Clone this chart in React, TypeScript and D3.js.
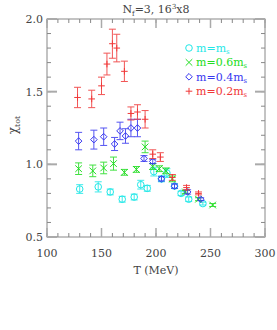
import React from 'react';
import * as d3 from 'd3';

// T (MeV), chi_tot value, error for each quark mass
const redT = [128, 141, 150, 155, 160, 164, 171, 177, 183, 190, 197, 204, 215, 228, 239];
const redV = [1.46, 1.45, 1.54, 1.69, 1.83, 1.8, 1.64, 1.35, 1.36, 1.31, 1.07, 1.05, 0.91, 0.84, 0.8];
const redE = [0.07, 0.06, 0.06, 0.075, 0.1, 0.095, 0.07, 0.045, 0.05, 0.06, 0.03, 0.03, 0.02, 0.015, 0.01];

const blueT = [129, 143, 152, 162, 167, 172, 177, 183, 189, 197, 205, 217, 229, 241];
const blueV = [1.16, 1.17, 1.19, 1.14, 1.23, 1.195, 1.25, 1.25, 1.04, 1.02, 0.9, 0.85, 0.81, 0.76];
const blueE = [0.06, 0.065, 0.06, 0.045, 0.06, 0.05, 0.06, 0.06, 0.02, 0.015, 0.015, 0.015, 0.015, 0.01];

const greenT = [129, 142, 152, 161, 171, 182, 190, 197, 203, 209, 215, 227, 239, 252];
const greenV = [0.97, 0.955, 0.975, 1.005, 0.945, 0.965, 1.12, 0.985, 0.97, 0.955, 0.9, 0.81, 0.76, 0.72];
const greenE = [0.04, 0.04, 0.04, 0.045, 0.02, 0.02, 0.04, 0.02, 0.02, 0.02, 0.02, 0.01, 0.01, 0.01];

const cyanT = [130, 147, 158, 169, 180, 186, 192, 198, 205, 210, 217, 223, 230, 243];
const cyanV = [0.83, 0.845, 0.81, 0.76, 0.775, 0.86, 0.835, 0.95, 0.9, 0.94, 0.85, 0.8, 0.76, 0.73];
const cyanE = [0.03, 0.035, 0.02, 0.02, 0.02, 0.03, 0.02, 0.03, 0.02, 0.03, 0.015, 0.015, 0.015, 0.01];

const xTicks = [100, 150, 200, 250, 300];
const yTicks = [0.5, 1.0, 1.5, 2.0];

const series = [
  { label: '1', coef: '', T: cyanT, V: cyanV, E: cyanE, color: '#1fe8e8', sym: 'circle' },
  { label: '0.6', coef: '0.6', T: greenT, V: greenV, E: greenE, color: '#22dd22', sym: 'cross' },
  { label: '0.4', coef: '0.4', T: blueT, V: blueV, E: blueE, color: '#3838f0', sym: 'diamond' },
  { label: '0.2', coef: '0.2', T: redT, V: redV, E: redE, color: '#f03838', sym: 'plus' },
];

const W = 277;
const H = 330;
const left = 47, right = 265, top = 19, bottom = 237;
const font = '"DejaVu Serif", "Liberation Serif", serif';

function Marker({ sym, x, y, color }: { sym: string; x: number; y: number; color: string }) {
  const r = 3.3;
  if (sym === 'circle') return <circle cx={x} cy={y} r={r} fill="none" stroke={color} strokeWidth={1} />;
  if (sym === 'cross')
    return (
      <path d={`M${x - r},${y - r}L${x + r},${y + r}M${x - r},${y + r}L${x + r},${y - r}`} stroke={color} strokeWidth={1} />
    );
  if (sym === 'diamond')
    return (
      <path d={`M${x},${y - r}L${x + r},${y}L${x},${y + r}L${x - r},${y}Z`} fill="none" stroke={color} strokeWidth={1} />
    );
  return <path d={`M${x - r},${y}L${x + r},${y}M${x},${y - r}L${x},${y + r}`} stroke={color} strokeWidth={1} />;
}

export default function App() {
  const x = d3.scaleLinear().domain([100, 300]).range([left, right]);
  const y = d3.scaleLinear().domain([0.5, 2.0]).range([bottom, top]);
  const xMinor = d3.range(100, 301, 10);
  const yMinor = d3.range(5, 21).map((d) => d / 10);
  const axisColor = '#888';
  const majorColor = '#aaa';
  const textColor = '#444';

  return (
    <svg width={W} height={H} style={{ position: 'absolute', left: 0, top: 0 }} fontFamily={font}>
      <rect width={W} height={H} fill="#fff" />
      {/* frame */}
      <rect x={left} y={top} width={right - left} height={bottom - top} fill="none" stroke={axisColor} strokeWidth={1} />
      {/* minor ticks */}
      {xMinor.map((t) => (
        <g key={'xm' + t} stroke={axisColor} strokeWidth={1}>
          <line x1={x(t)} x2={x(t)} y1={bottom} y2={bottom - 4} />
          <line x1={x(t)} x2={x(t)} y1={top} y2={top + 4} />
        </g>
      ))}
      {yMinor.map((t) => (
        <g key={'ym' + t} stroke={axisColor} strokeWidth={1}>
          <line x1={left} x2={left + 4} y1={y(t)} y2={y(t)} />
          <line x1={right} x2={right - 4} y1={y(t)} y2={y(t)} />
        </g>
      ))}
      {/* major ticks */}
      {xTicks.map((t) => (
        <g key={'xM' + t} stroke={majorColor} strokeWidth={1.5}>
          <line x1={x(t)} x2={x(t)} y1={bottom} y2={bottom - 9} />
          <line x1={x(t)} x2={x(t)} y1={top} y2={top + 9} />
        </g>
      ))}
      {yTicks.map((t) => (
        <g key={'yM' + t} stroke={majorColor} strokeWidth={2}>
          <line x1={left} x2={left + 10} y1={y(t)} y2={y(t)} />
          <line x1={right} x2={right - 10} y1={y(t)} y2={y(t)} />
        </g>
      ))}
      {/* tick labels */}
      {xTicks.map((t) => (
        <text key={'xl' + t} x={x(t)} y={bottom + 20} textAnchor="middle" fontSize={11} fill={textColor}>
          {t}
        </text>
      ))}
      {yTicks.map((t) => (
        <text key={'yl' + t} x={left - 4} y={y(t) + 4} textAnchor="end" fontSize={11} fill={textColor}>
          {t.toFixed(1)}
        </text>
      ))}
      {/* axis titles */}
      <text x={(left + right) / 2} y={bottom + 37} textAnchor="middle" fontSize={11} fill={textColor}>
        T (MeV)
      </text>
      <text transform={`translate(17,${(top + bottom) / 2 - 3}) rotate(-90)`} textAnchor="middle" fontSize={12} fill={textColor}>
        χ<tspan fontSize={8} dy={3}>tot</tspan>
      </text>
      <text x={(left + right) / 2} y={13} textAnchor="middle" fontSize={11} fill={textColor}>
        N<tspan fontSize={7} dy={3}>f</tspan>
        <tspan dy={-3}>=3,  16</tspan>
        <tspan fontSize={7} dy={-4}>3</tspan>
        <tspan dy={4}>x8</tspan>
      </text>
      {/* data */}
      {series.map((s) => (
        <g key={s.label}>
          {s.T.map((t, i) => {
            const cx = x(t);
            const cy = y(s.V[i]);
            const y1 = y(s.V[i] + s.E[i]);
            const y2 = y(s.V[i] - s.E[i]);
            return (
              <g key={i}>
                <g stroke={s.color} strokeWidth={1} opacity={0.85}>
                  <line x1={cx} x2={cx} y1={y1} y2={y2} />
                  <line x1={cx - 3.5} x2={cx + 3.5} y1={y1} y2={y1} />
                  <line x1={cx - 3.5} x2={cx + 3.5} y1={y2} y2={y2} />
                </g>
                <Marker sym={s.sym} x={cx} y={cy} color={s.color} />
              </g>
            );
          })}
        </g>
      ))}
      {/* legend */}
      {series.map((s, i) => {
        const ly = 48 + i * 14.4;
        return (
          <g key={'lg' + s.label}>
            <Marker sym={s.sym} x={189} y={ly} color={s.color} />
            <text x={196} y={ly + 4} fontSize={11} fill={s.color}>
              m={s.coef}m<tspan fontSize={7} dy={2}>s</tspan>
            </text>
          </g>
        );
      })}
    </svg>
  );
}
